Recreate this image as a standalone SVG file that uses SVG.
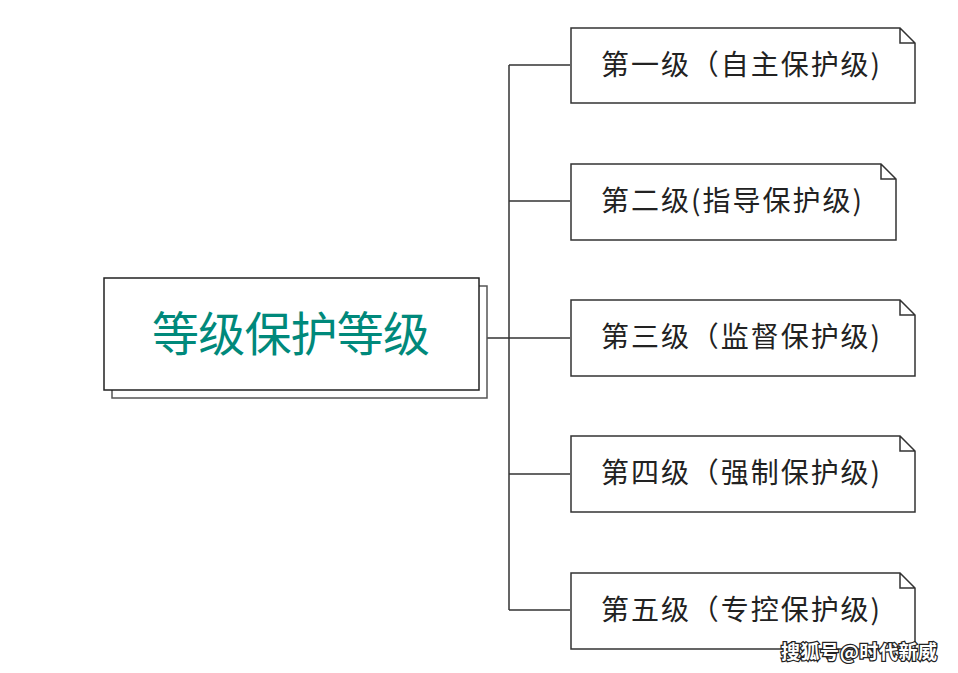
<svg xmlns="http://www.w3.org/2000/svg" width="958" height="673" viewBox="0 0 958 673">
<style>
.n{fill:#fff;stroke:#333;stroke-width:1.5}
.t{font-family:"Noto Sans CJK SC","Noto Sans",sans-serif;font-size:28px;fill:#222}
.c{fill:none;stroke:#333;stroke-width:1.5}
</style>
<rect width="958" height="673" fill="#fff"/>
<g id="connectors">
<path class="c" d="M487 338H570M509 65V610M509 65H570M509 201H570M509 474H570M509 610H570"/>
</g>
<g id="root">
<rect x="112" y="286" width="375" height="112" fill="#fff" stroke="#555" stroke-width="1.5"/>
<rect x="104" y="278" width="375" height="112" fill="#fff" stroke="#222" stroke-width="1.5"/>
<text x="152" y="351" textLength="278" font-family="Noto Sans CJK SC,sans-serif" font-size="47" fill="#00897b">等级保护等级</text>
</g>
<g id="n1"><path class="n" d="M571 28H900L915 43V103H571Z M900 28V43H915"/><text class="t" x="601" y="75" textLength="279">第一级（自主保护级)</text></g>
<g id="n2"><path class="n" d="M571 164H881L896 179V240H571Z M881 164V179H896"/><text class="t" x="601" y="211" textLength="261">第二级(指导保护级)</text></g>
<g id="n3"><path class="n" d="M571 300H900L915 315V376H571Z M900 300V315H915"/><text class="t" x="601" y="347" textLength="279">第三级（监督保护级)</text></g>
<g id="n4"><path class="n" d="M571 436H900L915 451V512H571Z M900 436V451H915"/><text class="t" x="601" y="483" textLength="279">第四级（强制保护级)</text></g>
<g id="n5"><path class="n" d="M571 573H900L915 588V649H571Z M900 573V588H915"/><text class="t" x="601" y="620" textLength="279">第五级（专控保护级)</text></g>
<text x="781" y="659" textLength="156" font-family="Noto Sans CJK SC,sans-serif" font-size="19" font-weight="bold" fill="#fff" stroke="#222" stroke-width="2.5" paint-order="stroke">搜狐号@时代新威</text>
</svg>
